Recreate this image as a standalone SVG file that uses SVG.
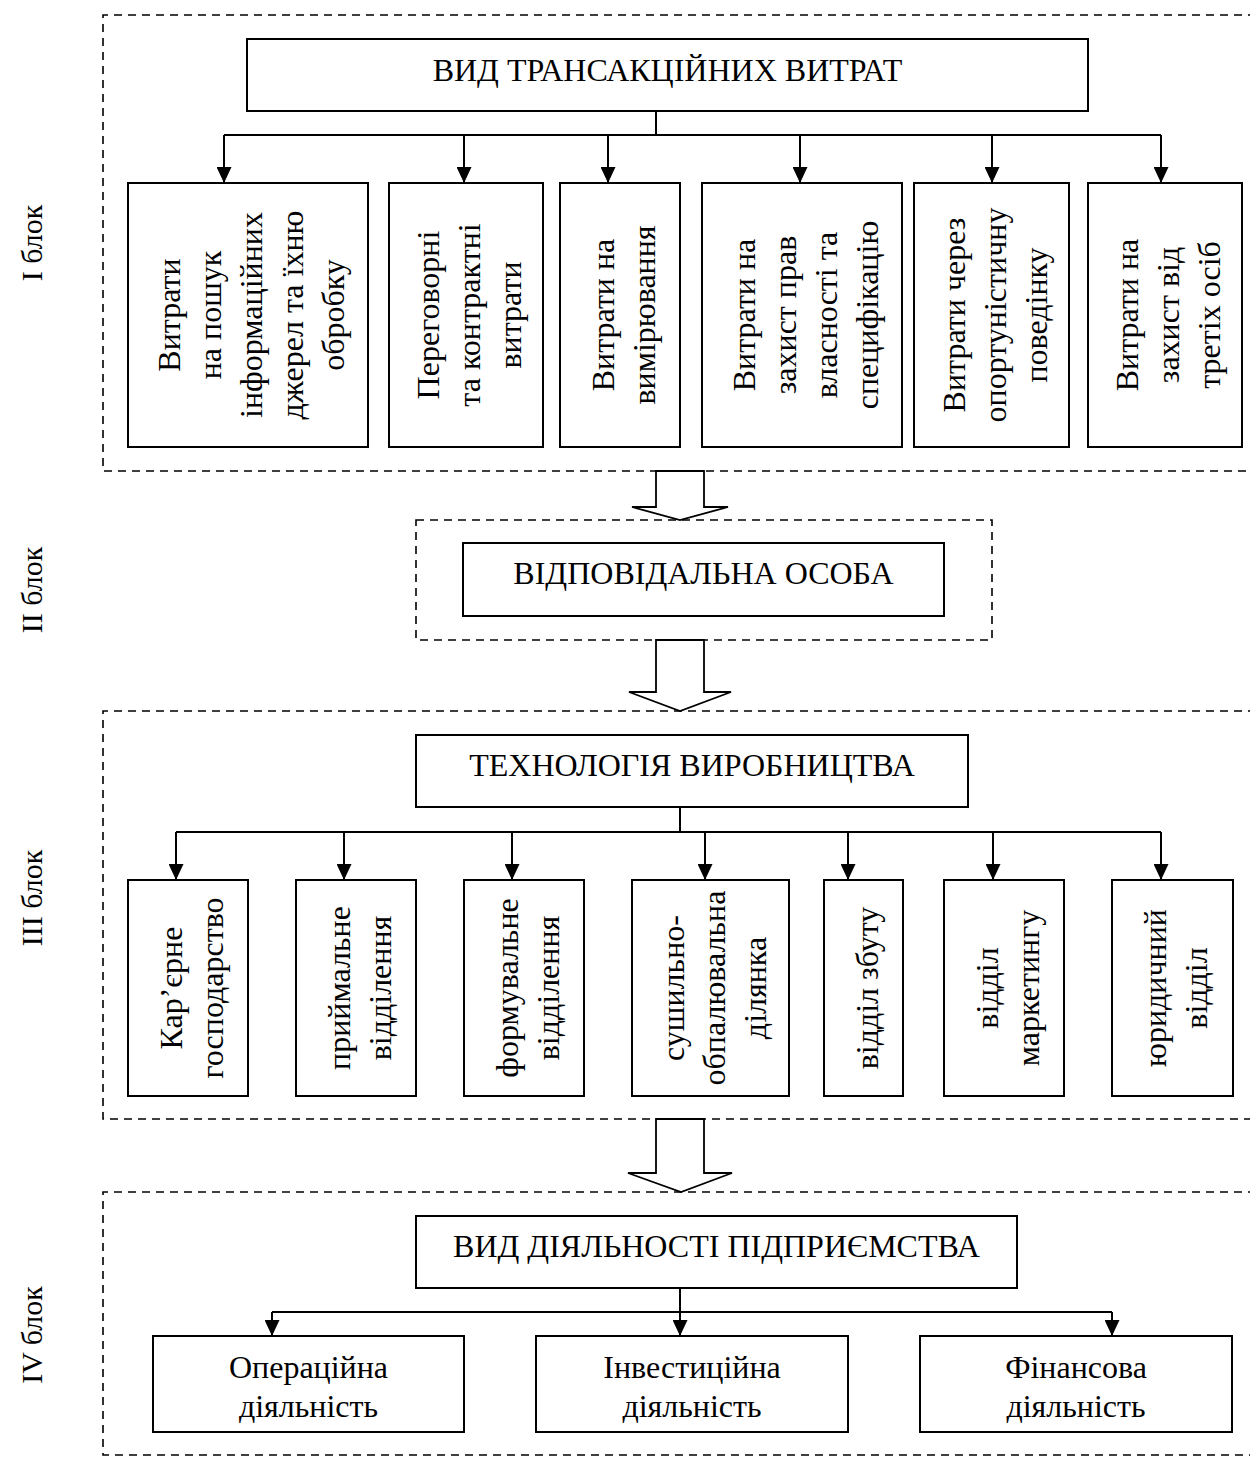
<svg xmlns="http://www.w3.org/2000/svg" width="1250" height="1457" viewBox="0 0 1250 1457">
<defs>
<marker id="ah" markerUnits="userSpaceOnUse" markerWidth="16" markerHeight="15" refX="16" refY="7.5" orient="auto">
<path d="M0,0 L16,7.5 L0,15 z" fill="#000"/>
</marker>
<style>
.t{font-family:"Liberation Serif","Times New Roman",serif;font-size:32px;fill:#000;text-anchor:middle}
.lb{font-family:"Liberation Serif","Times New Roman",serif;font-size:30px;fill:#000;text-anchor:middle}
.box{fill:#fff;stroke:#000;stroke-width:2}
.dash{fill:none;stroke:#000;stroke-width:1.6;stroke-dasharray:8 6}
.ln{fill:none;stroke:#000;stroke-width:2}
.arr{fill:none;stroke:#000;stroke-width:2;marker-end:url(#ah)}
.blk{fill:#fff;stroke:#000;stroke-width:1.8;stroke-linejoin:miter}
</style>
</defs>
<rect width="1250" height="1457" fill="#fff"/>

<g id="labels">
<text class="lb" transform="translate(42,243) rotate(-90)">I блок</text>
<text class="lb" transform="translate(42,590) rotate(-90)">II блок</text>
<text class="lb" transform="translate(42,898) rotate(-90)">III блок</text>
<text class="lb" transform="translate(42,1335) rotate(-90)">IV блок</text>
</g>

<g id="blocks">
<path id="block1" class="dash" d="M1256,15 H103 V471 H1256"/>
<rect id="block2" class="dash" x="416" y="520" width="576" height="120"/>
<path id="block3" class="dash" d="M1256,711 H103 V1119 H1256"/>
<path id="block4" class="dash" d="M1256,1192 H103 V1455 H1256"/>
</g>

<g id="connectors">
<path class="ln" d="M656,111 V135 M224,135 H1161"/>
<path class="arr" d="M224,135 V183"/>
<path class="arr" d="M464,135 V183"/>
<path class="arr" d="M608,135 V183"/>
<path class="arr" d="M800,135 V183"/>
<path class="arr" d="M992,135 V183"/>
<path class="arr" d="M1161,135 V183"/>

<path class="ln" d="M680,807 V832 M176,832 H1161"/>
<path class="arr" d="M176,832 V880"/>
<path class="arr" d="M344,832 V880"/>
<path class="arr" d="M512,832 V880"/>
<path class="arr" d="M705,832 V880"/>
<path class="arr" d="M848,832 V880"/>
<path class="arr" d="M993,832 V880"/>
<path class="arr" d="M1161,832 V880"/>

<path class="ln" d="M272,1312 H1112"/>
<path class="arr" d="M680,1288 V1336"/>
<path class="arr" d="M272,1312 V1336"/>
<path class="arr" d="M1112,1312 V1336"/>

<polygon class="blk" points="656,471 656,507 632,507 680,520 728,507 704,507 704,471"/>
<polygon class="blk" points="656,640 656,692 629,692 680,711 731,692 704,692 704,640"/>
<polygon class="blk" points="656,1119 656,1173 628,1173 681,1192 732,1173 704,1173 704,1119"/>
</g>

<g id="n-title1"><rect class="box" x="247" y="39" width="841" height="72"/><text class="t" x="667.5" y="81">ВИД ТРАНСАКЦІЙНИХ ВИТРАТ</text></g>

<g id="n-c1"><rect class="box" x="128" y="183" width="240" height="264"/>
<text class="t" transform="translate(180,315) rotate(-90)"><tspan x="0" y="0">Витрати</tspan><tspan x="0" y="41">на пошук</tspan><tspan x="0" y="82">інформаційних</tspan><tspan x="0" y="123">джерел та їхню</tspan><tspan x="0" y="164">обробку</tspan></text></g>
<g id="n-c2"><rect class="box" x="389" y="183" width="154" height="264"/>
<text class="t" transform="translate(439,315) rotate(-90)"><tspan x="0" y="0">Переговорні</tspan><tspan x="0" y="41">та контрактні</tspan><tspan x="0" y="82">витрати</tspan></text></g>
<g id="n-c3"><rect class="box" x="560" y="183" width="120" height="264"/>
<text class="t" transform="translate(613.5,315) rotate(-90)"><tspan x="0" y="0">Витрати на</tspan><tspan x="0" y="41">вимірювання</tspan></text></g>
<g id="n-c4"><rect class="box" x="702" y="183" width="200" height="264"/>
<text class="t" transform="translate(754.5,315) rotate(-90)"><tspan x="0" y="0">Витрати на</tspan><tspan x="0" y="41">захист прав</tspan><tspan x="0" y="82">власності та</tspan><tspan x="0" y="123">специфікацію</tspan></text></g>
<g id="n-c5"><rect class="box" x="914" y="183" width="155" height="264"/>
<text class="t" transform="translate(964.5,315) rotate(-90)"><tspan x="0" y="0">Витрати через</tspan><tspan x="0" y="41">опортуністичну</tspan><tspan x="0" y="82">поведінку</tspan></text></g>
<g id="n-c6"><rect class="box" x="1088" y="183" width="154" height="264"/>
<text class="t" transform="translate(1138,315) rotate(-90)"><tspan x="0" y="0">Витрати на</tspan><tspan x="0" y="41">захист від</tspan><tspan x="0" y="82">третіх осіб</tspan></text></g>

<g id="n-title2"><rect class="box" x="463" y="543" width="481" height="73"/><text class="t" x="703.5" y="584">ВІДПОВІДАЛЬНА ОСОБА</text></g>

<g id="n-title3"><rect class="box" x="416" y="735" width="552" height="72"/><text class="t" x="692" y="776">ТЕХНОЛОГІЯ ВИРОБНИЦТВА</text></g>

<g id="n-d1"><rect class="box" x="128" y="880" width="120" height="216"/>
<text class="t" transform="translate(181.5,988) rotate(-90)"><tspan x="0" y="0">Кар’єрне</tspan><tspan x="0" y="41">господарство</tspan></text></g>
<g id="n-d2"><rect class="box" x="296" y="880" width="120" height="216"/>
<text class="t" transform="translate(349.5,988) rotate(-90)"><tspan x="0" y="0">приймальне</tspan><tspan x="0" y="41">відділення</tspan></text></g>
<g id="n-d3"><rect class="box" x="464" y="880" width="120" height="216"/>
<text class="t" transform="translate(517.5,988) rotate(-90)"><tspan x="0" y="0">формувальне</tspan><tspan x="0" y="41">відділення</tspan></text></g>
<g id="n-d4"><rect class="box" x="632" y="880" width="157" height="216"/>
<text class="t" transform="translate(683.5,988) rotate(-90)"><tspan x="0" y="0">сушильно-</tspan><tspan x="0" y="41">обпалювальна</tspan><tspan x="0" y="82">ділянка</tspan></text></g>
<g id="n-d5"><rect class="box" x="824" y="880" width="79" height="216"/>
<text class="t" transform="translate(877.5,988) rotate(-90)">відділ збуту</text></g>
<g id="n-d6"><rect class="box" x="944" y="880" width="120" height="216"/>
<text class="t" transform="translate(997.5,988) rotate(-90)"><tspan x="0" y="0">відділ</tspan><tspan x="0" y="41">маркетингу</tspan></text></g>
<g id="n-d7"><rect class="box" x="1112" y="880" width="121" height="216"/>
<text class="t" transform="translate(1166,988) rotate(-90)"><tspan x="0" y="0">юридичний</tspan><tspan x="0" y="41">відділ</tspan></text></g>

<g id="n-title4"><rect class="box" x="416" y="1216" width="601" height="72"/><text class="t" x="716.5" y="1257">ВИД ДІЯЛЬНОСТІ ПІДПРИЄМСТВА</text></g>

<g id="n-e1"><rect class="box" x="153" y="1336" width="311" height="96"/>
<text class="t"><tspan x="308.5" y="1378">Операційна</tspan><tspan x="308.5" y="1417">діяльність</tspan></text></g>
<g id="n-e2"><rect class="box" x="536" y="1336" width="312" height="96"/>
<text class="t"><tspan x="692" y="1378">Інвестиційна</tspan><tspan x="692" y="1417">діяльність</tspan></text></g>
<g id="n-e3"><rect class="box" x="920" y="1336" width="312" height="96"/>
<text class="t"><tspan x="1076" y="1378">Фінансова</tspan><tspan x="1076" y="1417">діяльність</tspan></text></g>
</svg>
